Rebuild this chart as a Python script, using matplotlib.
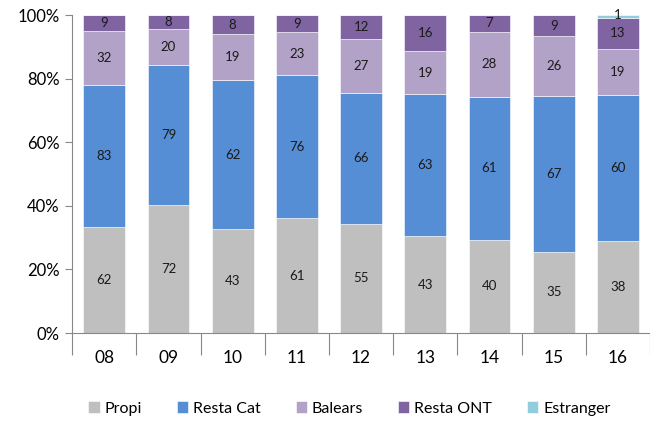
import numpy as np
import matplotlib
matplotlib.use('Agg')
import matplotlib.pyplot as plt

plt.rcParams['font.family'] = ['Lato', 'DejaVu Sans']

years = ['08', '09', '10', '11', '12', '13', '14', '15', '16']
series_names = ['Propi', 'Resta Cat', 'Balears', 'Resta ONT', 'Estranger']
propi = [62, 72, 43, 61, 55, 43, 40, 35, 38]
resta_cat = [83, 79, 62, 76, 66, 63, 61, 67, 60]
balears = [32, 20, 19, 23, 27, 19, 28, 26, 19]
resta_ont = [9, 8, 8, 9, 12, 16, 7, 9, 13]
estranger = [0, 0, 0, 0, 0, 0, 0, 0, 1]
colors = ['#BFBFBF', '#558ED5', '#B3A2C7', '#8064A2', '#93CDDD']

data = np.array([propi, resta_cat, balears, resta_ont, estranger], dtype=float)
totals = data.sum(axis=0)
pct = data / totals * 100

fig = plt.figure(figsize=(6.5, 4.21), dpi=100)
ax = fig.add_axes([0.111, 0.209, 0.889, 0.755])

x = np.arange(len(years))
bottom = np.zeros(len(years))
for i, name in enumerate(series_names):
    ax.bar(x, pct[i], 0.65, bottom=bottom, color=colors[i], label=name,
           edgecolor='white', linewidth=0.4)
    for j in range(len(years)):
        if data[i, j] > 0:
            yc = bottom[j] + pct[i, j] / 2
            if name == 'Estranger':
                yc = bottom[j] + pct[i, j] / 2 + 0.3
            ax.text(x[j], yc, str(int(data[i, j])), ha='center', va='center',
                    fontsize=9.5, color='#1a1a1a')
    bottom += pct[i]

ax.set_xlim(-0.5, len(years) - 0.5)
ax.set_ylim(0, 100)
ax.set_yticks([0, 20, 40, 60, 80, 100])
ax.set_yticklabels(['0%', '20%', '40%', '60%', '80%', '100%'], fontsize=12)
ax.set_xticks(np.arange(-0.5, len(years), 1))
ax.set_xticklabels([])
ax.set_xticks(x, minor=True)
ax.set_xticklabels(years, minor=True, fontsize=12.5)
ax.tick_params(axis='x', which='major', length=16, color='#888888')
ax.tick_params(axis='x', which='minor', length=0, pad=12)
ax.tick_params(axis='y', length=5, color='#888888', pad=4)
for s in ['top', 'right']:
    ax.spines[s].set_visible(False)
ax.spines['left'].set_color('#888888')
ax.spines['bottom'].set_color('#888888')

ax.legend(loc='upper center', bbox_to_anchor=(0.48, -0.17), ncol=5, frameon=False,
          fontsize=11.5, handlelength=0.7, handleheight=0.7, handletextpad=0.3,
          columnspacing=2.2)

fig.savefig('out.png', dpi=100)
